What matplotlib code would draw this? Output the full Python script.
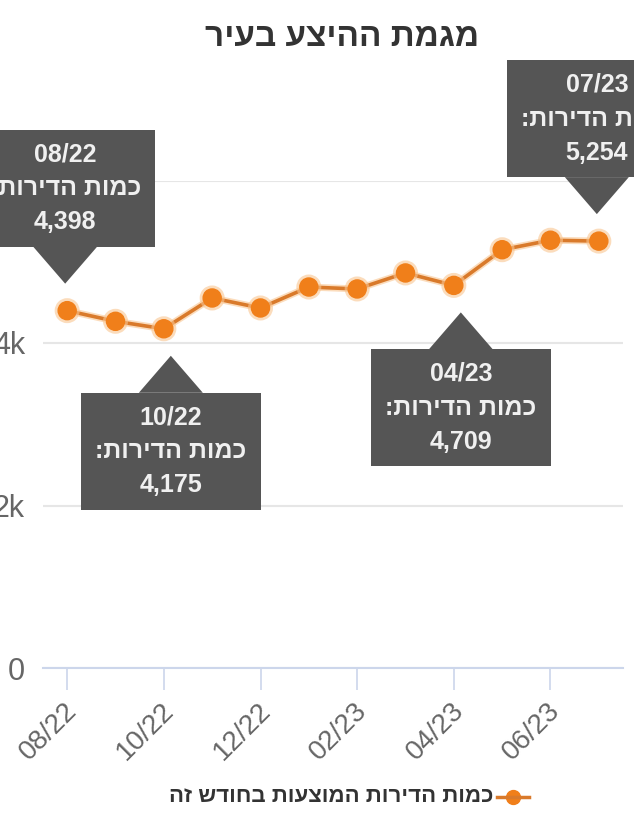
import matplotlib
matplotlib.use("Agg")
import matplotlib.pyplot as plt
import matplotlib.patheffects as pe
from matplotlib.patches import Polygon, Rectangle
from matplotlib.lines import Line2D
from matplotlib.transforms import IdentityTransform, ScaledTranslation

# נתונים
months = ["08/22", "09/22", "10/22", "11/22", "12/22", "01/23",
          "02/23", "03/23", "04/23", "05/23", "06/23", "07/23"]
values = [4398, 4267, 4175, 4554, 4431, 4689, 4665, 4862, 4709, 5148, 5265, 5254]
tick_months = ["08/22", "10/22", "12/22", "02/23", "04/23", "06/23"]
y_ticks = [0, 2000, 4000, 6000]
y_tick_labels = ["0", "2k", "4k", ""]  # the 6k label sits under the 08/22 box
callouts = [("08/22", "up"), ("10/22", "down"), ("04/23", "down"), ("07/23", "up")]

title = "מגמת ההיצע בעיר"
series_name = "כמות הדירות המוצעות בחודש זה"
callout_label = "כמות הדירות:"

FONT = "Liberation Sans"
BOX = "#555555"


def rtl(s):
    # matplotlib has no bidi support, so flip Hebrew for display
    return s[::-1]


W, H = 634, 818
fig = plt.figure(figsize=(W / 100, H / 100), dpi=100)
fig.patch.set_facecolor("white")
ax = fig.add_axes([43 / W, (H - 668) / H, (623 - 43) / W, (668 - 180.5) / H])

x = list(range(len(months)))
ax.plot(x, values, color="#d97a2b", lw=2.6, marker="o", ms=13,
        mfc="#f07f1a", mec="#f07f1a", zorder=3, clip_on=False,
        path_effects=[pe.Stroke(linewidth=5, foreground="#f9c590", alpha=0.6), pe.Normal()])

ax.set_xlim(-0.5, 11.5)
ax.set_ylim(0, 6000)
ax.set_xticks([months.index(m) for m in tick_months])
ax.set_xticklabels(tick_months, rotation=45, ha="right", va="center",
                   rotation_mode="anchor", family=FONT)
ax.tick_params(axis="x", length=16, width=1.2, color="#ccd6eb", pad=12,
               labelsize=20, labelcolor="#666666")
for lab in ax.get_xticklabels():
    lab.set_transform(lab.get_transform() + ScaledTranslation(6 / 100, 0, fig.dpi_scale_trans))
ax.set_yticks(y_ticks, y_tick_labels, family=FONT)
ax.tick_params(axis="y", length=0, pad=13, labelsize=22, labelcolor="#666666")
ax.yaxis.grid(True, color="#e6e6e6", lw=1.5)
ax.set_axisbelow(True)
for side in ["top", "right", "left"]:
    ax.spines[side].set_visible(False)
ax.spines["bottom"].set_color("#ccd6eb")
ax.spines["bottom"].set_linewidth(1.5)


def callout(i, direction):
    px, py = ax.transData.transform((i, values[i]))
    s = 1 if direction == "up" else -1
    cx = px - 2 if direction == "up" else px + 7
    apex = py + s * 27
    base = apex + s * 37
    far = base + s * 117
    tri = Polygon([(cx, apex), (cx - 32, base), (cx + 32, base)],
                  transform=IdentityTransform(), fc=BOX, ec="none", zorder=5)
    rect = Rectangle((cx - 90, min(base, far)), 180, 117,
                     transform=IdentityTransform(), fc=BOX, ec="none", zorder=5)
    fig.add_artist(tri)
    fig.add_artist(rect)
    mid = (base + far) / 2
    lines = [months[i], rtl(callout_label), f"{values[i]:,}"]
    for k, t in enumerate(lines):
        fig.text(cx, mid + (1 - k) * 34, t, transform=IdentityTransform(),
                 ha="center", va="center", fontsize=18, fontweight="bold",
                 color="#f0f0f0", family=FONT, zorder=6)


for m, d in callouts:
    callout(months.index(m), d)

fig.text(342 / W, 1 - 37 / H, rtl(title), ha="center", va="center",
         fontsize=24, fontweight="bold", color="#333333", family=FONT)

# legend drawn by hand, marker on the right like the original
fig.add_artist(Line2D([497, 529], [H - 797, H - 797], transform=IdentityTransform(),
                      color="#d97a2b", lw=2.5, zorder=4))
fig.add_artist(Line2D([513], [H - 797], transform=IdentityTransform(),
                      marker="o", ms=10, mfc="#f07f1a", mec="#f07f1a", lw=0))
fig.text(493 / W, 1 - 797 / H, rtl(series_name), ha="right", va="center",
         fontsize=16, fontweight="bold", color="#333333", family=FONT)

fig.savefig("out.png", dpi=100, facecolor=fig.get_facecolor())
